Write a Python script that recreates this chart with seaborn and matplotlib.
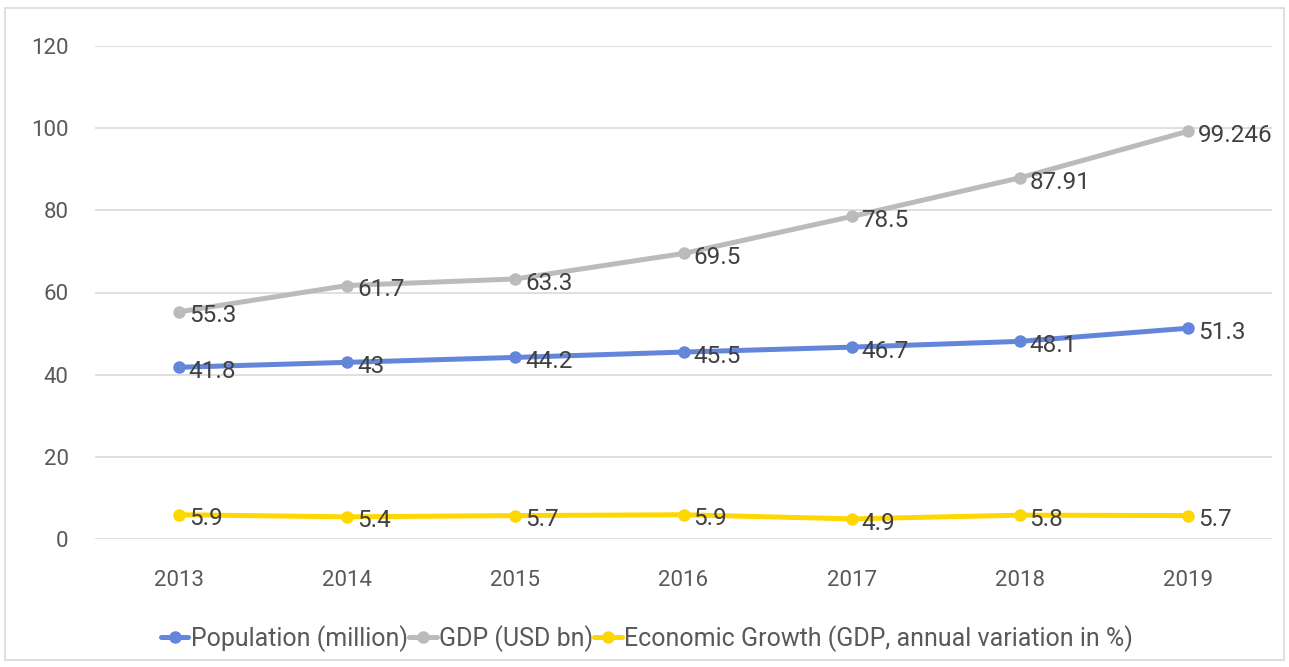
"""Population, GDP and growth line chart."""

import pandas as pd
import matplotlib.pyplot as plt
import seaborn as sns
from matplotlib.patches import Rectangle

YEARS = ["2013", "2014", "2015", "2016", "2017", "2018", "2019"]
POPULATION = [41.8, 43, 44.2, 45.5, 46.7, 48.1, 51.3]
GDP = [55.3, 61.7, 63.3, 69.5, 78.5, 87.91, 99.246]
GROWTH = [5.9, 5.4, 5.7, 5.9, 4.9, 5.8, 5.7]
SERIES = [
    "Population (million)",
    "GDP (USD bn)",
    "Economic Growth (GDP, annual variation in %)",
]
LABELS = [
    ["41.8", "43", "44.2", "45.5", "46.7", "48.1", "51.3"],
    ["55.3", "61.7", "63.3", "69.5", "78.5", "87.91", "99.246"],
    ["5.9", "5.4", "5.7", "5.9", "4.9", "5.8", "5.7"],
]
COLORS = ["#6385DA", "#BBBBBB", "#FFD700"]

sns.set_theme(style="white")
plt.rcParams["font.family"] = ["Roboto", "DejaVu Sans"]
TEXT = "#595959"

rows = []
for name, vals in zip(SERIES, [POPULATION, GDP, GROWTH]):
    for i, v in enumerate(vals):
        rows.append({"pos": i, "value": v, "series": name})
df = pd.DataFrame(rows)

fig = plt.figure(figsize=(12.89, 6.67), dpi=100)
fig.patches.append(Rectangle((5 / 1289, 7 / 667), 1279 / 1289, 652 / 667,
                             transform=fig.transFigure, fill=False,
                             edgecolor="#D9D9D9", linewidth=1.2))
ax = fig.add_axes([95 / 1289, 128 / 667, 1177 / 1289, 493 / 667])

sns.lineplot(data=df, x="pos", y="value", hue="series", hue_order=SERIES,
             palette=COLORS, marker="o", markersize=9, markeredgewidth=0,
             linewidth=3.6, ax=ax, legend=True)

for labels, vals in zip(LABELS, [POPULATION, GDP, GROWTH]):
    for i, (lab, v) in enumerate(zip(labels, vals)):
        ax.annotate(lab, (i, v), xytext=(7, -3), textcoords="offset points",
                    ha="left", va="center", fontsize=17.5, color="#404040")

ax.set_xlim(-0.5, 6.5)
ax.set_ylim(0, 120)
ax.set_yticks(range(0, 121, 20))
ax.set_xticks(range(len(YEARS)))
ax.set_xticklabels(YEARS)
ax.set_xlabel("")
ax.set_ylabel("")
ax.grid(axis="y", color="#D9D9D9", linewidth=1.2)
ax.set_axisbelow(True)
for s in ax.spines.values():
    s.set_visible(False)
ax.tick_params(axis="y", length=0, pad=19, labelsize=16, labelcolor=TEXT)
ax.tick_params(axis="x", length=0, pad=22, labelsize=16, labelcolor=TEXT)

handles, names = ax.get_legend_handles_labels()
ax.get_legend().remove()
fig.legend(handles, names, loc="center", bbox_to_anchor=(0.502, 0.043),
           ncol=3, frameon=False, fontsize=18, handlelength=1.1,
           handletextpad=0.1, columnspacing=0.05, labelcolor=TEXT)

fig.savefig("out.png", dpi=100)
